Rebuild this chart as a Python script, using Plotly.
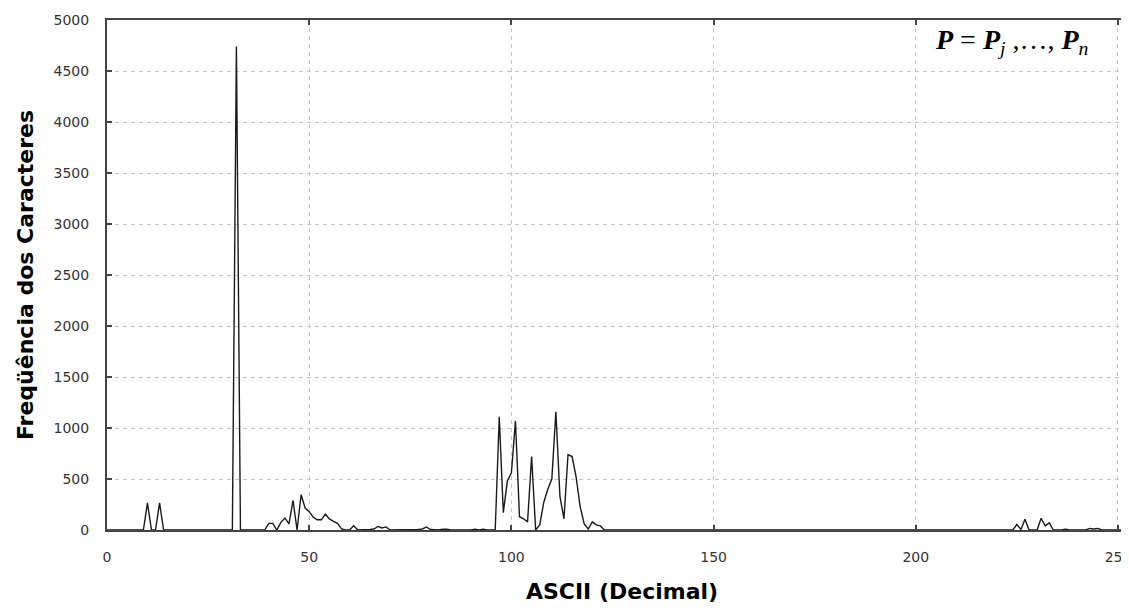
import plotly.graph_objects as go

# ASCII codes with non-zero character counts (all other codes are 0)
nonzero_codes = [10, 13, 32,
                 40, 41, 43, 44, 45, 46, 48, 49, 50, 51, 52, 53, 54, 55, 56, 57, 58, 61,
                 64, 65, 66, 67, 68, 69, 77, 78, 79, 80, 83, 84, 91, 93,
                 97, 98, 99, 100, 101, 102, 103, 104, 105, 107, 108, 109, 110, 111,
                 112, 113, 114, 115, 116, 117, 118, 119, 120, 121, 122,
                 225, 226, 227, 231, 232, 233, 237, 243, 244, 245]
nonzero_counts = [265, 265, 4740,
                  65, 65, 75, 117, 60, 290, 345, 215, 180, 125, 100, 100, 155, 108, 85, 65, 10, 42,
                  5, 5, 10, 35, 20, 30, 5, 10, 30, 5, 8, 8, 8, 8,
                  1110, 170, 480, 560, 1070, 130, 110, 80, 720, 50, 270, 400, 500, 1160,
                  330, 110, 740, 720, 520, 230, 60, 10, 80, 50, 40,
                  55, 5, 105, 115, 40, 70, 8, 15, 10, 15]

ascii_codes = list(range(256))
count_by_code = dict(zip(nonzero_codes, nonzero_counts))
frequencies = [count_by_code.get(c, 0) for c in ascii_codes]

x_ticks = [0, 50, 100, 150, 200, 250]
y_ticks = [0, 500, 1000, 1500, 2000, 2500, 3000, 3500, 4000, 4500, 5000]

fig = go.Figure()
fig.add_trace(go.Scatter(
    x=ascii_codes, y=frequencies, mode="lines",
    line=dict(color="#1a1a1a", width=1.4),
    hoverinfo="x+y", showlegend=False,
))

axis_font = dict(family="DejaVu Sans", size=14, color="#333333")
title_font = dict(family="DejaVu Sans", size=22, color="#000000")

fig.update_layout(
    width=1129, height=608,
    margin=dict(l=99, r=0, t=12, b=86),
    paper_bgcolor="white", plot_bgcolor="white",
    xaxis=dict(
        range=[0, 254.7], tickvals=x_ticks, ticktext=[str(v) for v in x_ticks],
        showgrid=True, gridcolor="#c8c8c8", griddash="4px,4px", gridwidth=1,
        zeroline=False, showline=True, linecolor="#444444", linewidth=2, mirror="ticks",
        ticks="inside", ticklen=5, tickcolor="#444444", tickwidth=2,
        tickfont=axis_font, ticklabelstandoff=13, automargin=False,
        ticklabeloverflow="allow",
        title=dict(text="<b>ASCII (Decimal)</b>", font=title_font, standoff=20),
    ),
    yaxis=dict(
        range=[0, 5000], tickvals=y_ticks, ticktext=[str(v) for v in y_ticks],
        showgrid=True, gridcolor="#c8c8c8", griddash="4px,4px", gridwidth=1,
        zeroline=False, showline=True, linecolor="#444444", linewidth=2, mirror="ticks",
        ticks="inside", ticklen=5, tickcolor="#444444", tickwidth=2,
        tickfont=axis_font, ticklabelstandoff=13, automargin=False,
        ticklabeloverflow="allow",
        title=dict(text="<b>Freqüência dos Caracteres</b>", font=title_font, standoff=14),
    ),
    annotations=[dict(
        xref="paper", yref="paper", x=0.954, y=0.997, xanchor="right", yanchor="top",
        showarrow=False,
        text="<b><i>P</i></b> = <b><i>P</i></b><sub><i>j</i></sub> ,…, <b><i>P</i></b><sub><i>n</i></sub>",
        font=dict(family="Liberation Serif", size=28, color="#000000"),
    )],
)

fig.write_html("out.html")
